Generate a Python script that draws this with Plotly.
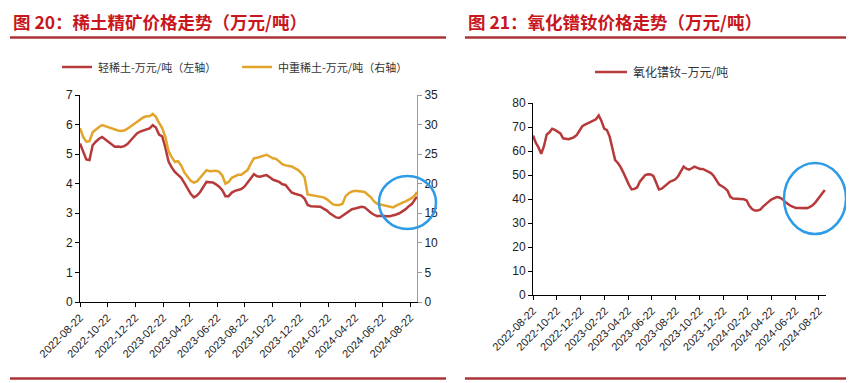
import pandas as pd
import plotly.graph_objects as go

# ---------------- data ----------------
dates = list(pd.date_range("2022-08-22", periods=107, freq="7D").strftime("%Y-%m-%d")) + ["2024-09-06"]

light_re = [5.36, 5.08, 4.82, 4.80, 5.30, 5.42, 5.52, 5.58, 5.50, 5.42,
            5.33, 5.25, 5.26, 5.24, 5.27, 5.34, 5.46, 5.60, 5.70, 5.76,
            5.80, 5.85, 5.87, 5.98, 5.90, 5.66, 5.60, 5.22, 4.75, 4.55,
            4.40, 4.30, 4.20, 4.03, 3.85, 3.66, 3.54, 3.60, 3.72, 3.88,
            4.06, 4.05, 4.04, 3.98, 3.90, 3.78, 3.58, 3.58, 3.70, 3.76,
            3.80, 3.82, 3.90, 4.04, 4.18, 4.32, 4.25, 4.24, 4.27, 4.29,
            4.22, 4.14, 4.10, 4.06, 3.98, 3.96, 3.82, 3.70, 3.66, 3.62,
            3.60, 3.50, 3.28, 3.24, 3.24, 3.23, 3.22, 3.16, 3.10, 3.00,
            2.92, 2.86, 2.84, 2.92, 3.00, 3.08, 3.14, 3.16, 3.20, 3.22,
            3.20, 3.10, 3.02, 2.95, 2.90, 2.92, 2.90, 2.90, 2.90, 2.92,
            2.96, 3.00, 3.06, 3.14, 3.24, 3.32, 3.48, 3.56]

mid_heavy_re = [29.4, 27.9, 27.1, 27.2, 28.7, 29.2, 29.6, 29.9, 29.7, 29.5,
                29.3, 29.1, 29.0, 28.9, 29.0, 29.3, 29.7, 30.1, 30.5, 30.9,
                31.2, 31.4, 31.4, 31.8, 31.3, 30.3, 29.4, 27.9, 25.5, 24.5,
                23.7, 23.8, 23.1, 21.9, 21.2, 20.5, 20.2, 20.4, 21.0, 21.7,
                22.3, 22.1, 22.2, 22.2, 22.0, 21.4, 20.0, 20.3, 21.0, 21.3,
                21.5, 21.5, 21.9, 22.3, 23.4, 24.3, 24.4, 24.6, 24.8, 24.9,
                24.6, 24.3, 24.2, 23.8, 23.3, 23.1, 23.0, 22.9, 22.6, 22.3,
                21.8, 21.1, 18.2, 18.1, 18.1, 18.0, 17.9, 17.7, 17.4, 16.9,
                16.5, 16.4, 16.4, 16.6, 17.9, 18.4, 18.7, 18.8, 18.8, 18.7,
                18.6, 18.1, 17.7, 17.0, 16.6, 16.5, 16.4, 16.2, 16.1, 16.0,
                16.3, 16.6, 16.8, 17.0, 17.3, 17.6, 18.1, 18.6]

prnd = [66.5, 63.5, 61.5, 58.8, 62.0, 66.8, 67.8, 69.3, 68.8, 68.2,
        67.3, 65.3, 65.0, 64.9, 65.3, 65.8, 66.7, 68.5, 70.3, 71.0,
        71.5, 72.3, 72.7, 73.2, 74.8, 72.5, 69.3, 68.7, 66.0, 61.5,
        56.2, 55.0, 53.3, 51.0, 48.2, 46.0, 44.0, 44.2, 44.8, 47.2,
        48.6, 50.0, 50.3, 50.2, 49.5, 47.0, 44.0, 44.3, 45.4, 46.4,
        47.2, 47.7, 48.2, 49.5, 51.8, 53.5, 52.6, 52.2, 52.8, 53.5,
        53.0, 52.5, 52.5, 52.0, 51.5, 50.8, 49.6, 48.0, 46.0, 45.3,
        44.6, 43.5, 41.0, 40.2, 40.1, 40.0, 40.0, 39.9, 39.4, 37.2,
        35.8, 35.2, 35.2, 35.6, 36.8, 38.0, 38.8, 39.8, 40.2, 40.8,
        40.6, 40.0, 38.8, 37.8, 37.2, 36.7, 36.3, 36.3, 36.2, 36.1,
        36.2, 36.6, 37.3, 38.4, 39.8, 41.3, 42.8, 43.8]

tick_dates = ["2022-08-22", "2022-10-22", "2022-12-22", "2023-02-22", "2023-04-22",
              "2023-06-22", "2023-08-22", "2023-10-22", "2023-12-22", "2024-02-22",
              "2024-04-22", "2024-06-22", "2024-08-22"]

title_left = "图 20：稀土精矿价格走势（万元/吨）"
title_right = "图 21：氧化镨钕价格走势（万元/吨）"
name_light = "轻稀土-万元/吨（左轴）"
name_heavy = "中重稀土-万元/吨（右轴）"
name_prnd = "氧化镨钕–万元/吨"

# ---------------- style ----------------
OFF = 8                      # page body margin of the html page
W, H = 854 - OFF, 383 - OFF  # figure size so that it ends at the window edge
RED = "#B73A3B"
GOLD = "#E2A52A"
BLUE = "#2E9BE6"
TITLE_RED = "#C8161D"
RULE = "#A93336"
CJK = "Noto Sans CJK SC"
NUM = "Liberation Sans, Arial, sans-serif"


def px(x):
    """window pixel x -> paper coordinate"""
    return (x - OFF) / W


def py(y):
    """window pixel y (from top) -> paper coordinate"""
    return 1 - (y - OFF) / H


fig = go.Figure()
fig.add_trace(go.Scatter(x=dates, y=light_re, name=name_light, mode="lines",
                         line=dict(color=RED, width=2.5), xaxis="x", yaxis="y"))
fig.add_trace(go.Scatter(x=dates, y=mid_heavy_re, name=name_heavy, mode="lines",
                         line=dict(color=GOLD, width=2.5), xaxis="x", yaxis="y2"))
fig.add_trace(go.Scatter(x=dates, y=prnd, name=name_prnd, mode="lines",
                         line=dict(color=RED, width=2.5), xaxis="x2", yaxis="y3"))

xcommon = dict(type="date", tickvals=tick_dates, ticktext=tick_dates, tickangle=-45,
               ticks="outside", ticklen=4, tickcolor="#000", showline=True,
               linecolor="#000", linewidth=1, showgrid=False, zeroline=False,
               automargin=False,
               tickfont=dict(family=NUM, size=11, color="#222"))
ycommon = dict(ticks="outside", ticklen=4, showline=True, linewidth=1,
               showgrid=False, zeroline=False, automargin=False,
               tickfont=dict(family=NUM, size=12, color="#222"))

fig.update_layout(
    template="none",
    width=W, height=H, paper_bgcolor="white", plot_bgcolor="white",
    margin=dict(l=0, r=0, t=0, b=0, pad=0, autoexpand=False), showlegend=False,
    xaxis=dict(domain=[px(80), px(417)], anchor="y",
               range=["2022-08-22", "2024-09-06"], **xcommon),
    yaxis=dict(domain=[py(302), py(95)], anchor="x", range=[0, 7], dtick=1,
               linecolor="#000", tickcolor="#000", **ycommon),
    yaxis2=dict(overlaying="y", side="right", anchor="x", range=[0, 35], dtick=5,
                linecolor="#9A9A9A", tickcolor="#9A9A9A", **ycommon),
    xaxis2=dict(domain=[px(533), px(826)], anchor="y3",
                range=["2022-08-22", "2024-09-09"], **xcommon),
    yaxis3=dict(domain=[py(295), py(103)], anchor="x2", range=[0, 80], dtick=10,
                linecolor="#000", tickcolor="#000", **ycommon),
)

shapes = []
# title rules and bottom rules
for x0, x1 in [(10, 446), (465, 851)]:
    shapes.append(dict(type="line", xref="paper", yref="paper", x0=px(x0), x1=px(x1),
                       y0=py(37.5), y1=py(37.5), line=dict(color=RULE, width=2.5)))
    shapes.append(dict(type="line", xref="paper", yref="paper", x0=px(x0), x1=px(x1),
                       y0=py(378.5), y1=py(378.5), line=dict(color=RULE, width=2.5)))
# legend samples
for x0, x1, yy, c in [(62, 92, 67, RED), (242, 272, 67, GOLD), (595, 627, 72, RED)]:
    shapes.append(dict(type="line", xref="paper", yref="paper", x0=px(x0), x1=px(x1),
                       y0=py(yy), y1=py(yy), line=dict(color=c, width=2.5)))
# highlight ellipses
for x0, x1, y0, y1 in [(379, 436, 176, 229), (784, 846, 163, 234)]:
    shapes.append(dict(type="circle", xref="paper", yref="paper", x0=px(x0), x1=px(x1),
                       y0=py(y1), y1=py(y0), line=dict(color=BLUE, width=2.5)))
fig.update_layout(shapes=shapes)

ann = []
for x, txt in [(11, title_left), (466, title_right)]:
    ann.append(dict(text="<b>" + txt + "</b>", xref="paper", yref="paper", x=px(x), y=py(22),
                    xanchor="left", yanchor="middle", showarrow=False,
                    font=dict(family=CJK, size=17.5, color=TITLE_RED)))
for x, yy, txt, sz in [(96, 67, name_light, 11), (276, 67, name_heavy, 11), (631, 72, name_prnd, 12)]:
    ann.append(dict(text=txt, xref="paper", yref="paper", x=px(x), y=py(yy),
                    xanchor="left", yanchor="middle", showarrow=False,
                    font=dict(family=CJK, size=sz, color="#333")))
fig.update_layout(annotations=ann)

fig.write_html("out.html")
